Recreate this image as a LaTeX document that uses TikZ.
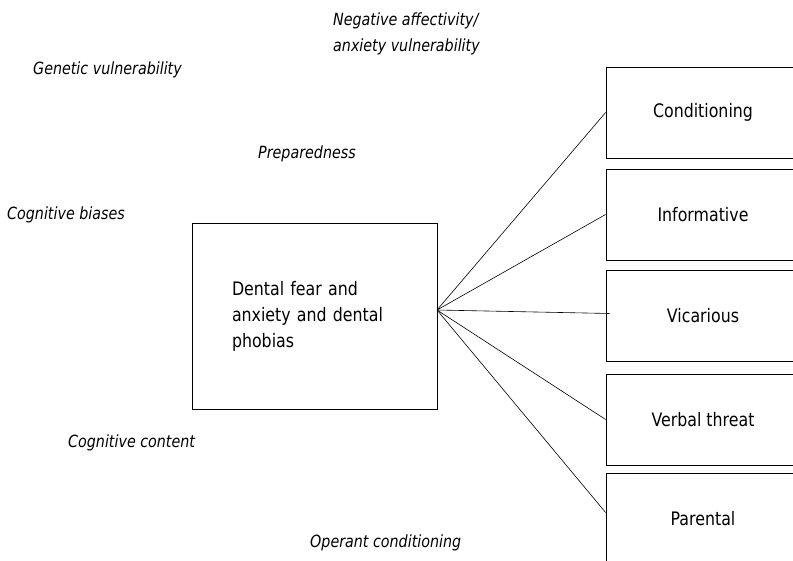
\documentclass[tikz,border=0pt]{standalone}
\usepackage{fontspec}
\setmainfont[FakeStretch=0.85]{DejaVu Sans}

\begin{document}
\begin{tikzpicture}[x=1pt,y=-1pt,
    every node/.style={font=\fontsize{18.6}{26}\selectfont},
    factor/.style={anchor=west, inner sep=0pt, align=left, font=\fontsize{16.8}{25.5}\selectfont\itshape},
    route/.style={draw, line width=0.8pt, minimum width=194pt, minimum height=91pt, inner sep=0pt},
    link/.style={line width=0.6pt}]
            \useasboundingbox (0,0) rectangle (793,561);
            \clip (0,0) rectangle (793,561);
            % factors around the centre
            \node[factor] (neg) at (333,34) {Negative affectivity/\\anxiety vulnerability};
            \node[factor] (gen) at (33,70) {Genetic vulnerability};
            \node[factor] (prep) at (258,154) {Preparedness};
            \node[factor] (bias) at (7,215) {Cognitive biases};
            \node[factor] (cont) at (68,443) {Cognitive content};
            \node[factor] (oper) at (310,543) {Operant conditioning};
            % centre box
            \node[draw, line width=0.8pt, minimum width=245pt, minimum height=186pt, text width=165pt, align=left, inner sep=0pt] (main) at (314.5,316) {Dental fear and\\anxiety and dental\\phobias};
            \coordinate (hub) at (437,310);
            % pathways
            \node[route] (cond) at (703,112.5) {Conditioning};
            \node[route] (inform) at (703,214.5) {Informative};
            \node[route] (vicar) at (703,315.5) {Vicarious};
            \node[route] (verbal) at (703,419.5) {Verbal threat};
            \node[route] (parent) at (703,518.5) {Parental};
            \draw[link] (hub) -- (cond.west);
            \draw[link] (hub) -- (inform.west);
            \draw[link] (hub) -- ([xshift=4pt,yshift=2pt]vicar.west);
            \draw[link] (hub) -- (verbal.west);
            \draw[link] (hub) -- ([yshift=6pt]parent.west);
        \end{tikzpicture}
\end{document}
